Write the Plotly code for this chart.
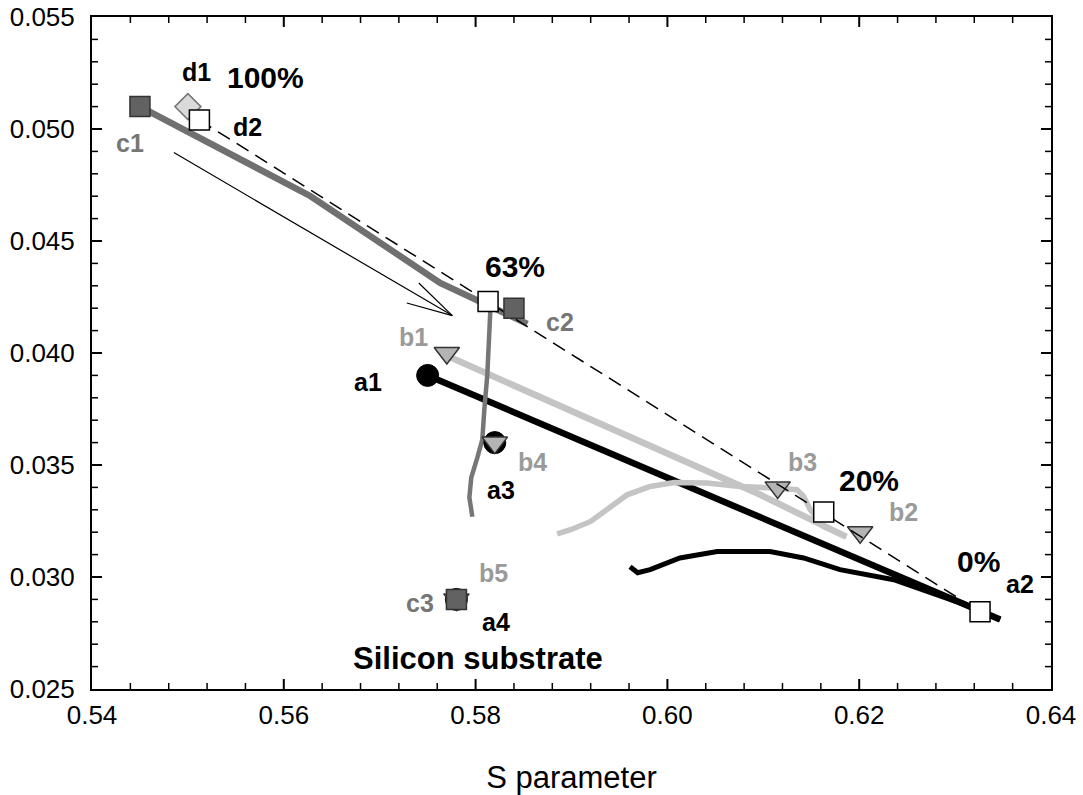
import plotly.graph_objects as go

# ---------------- data (S parameter, W parameter) ----------------
a_line_s = [0.5750, 0.5961, 0.6302, 0.6347]
a_line_w = [0.0390, 0.03515, 0.02886, 0.0281]
a_curve_s = [0.5961, 0.5969, 0.5982, 0.6013, 0.6052, 0.6107, 0.6142, 0.6180, 0.6236, 0.6271, 0.6305, 0.6347]
a_curve_w = [0.03046, 0.03019, 0.03033, 0.03085, 0.03114, 0.03114, 0.03085, 0.03033, 0.02988, 0.02936, 0.02884, 0.0281]
b_line_s = [0.5770, 0.5961, 0.6097, 0.6186]
b_line_w = [0.03988, 0.03627, 0.03367, 0.0318]
b_curve_s = [0.5885, 0.5899, 0.5920, 0.5937, 0.5958, 0.5982, 0.6007, 0.6041, 0.6076, 0.6111, 0.6135, 0.6142, 0.6149, 0.6163, 0.6187]
b_curve_w = [0.03193, 0.03211, 0.03248, 0.03300, 0.03367, 0.03404, 0.03422, 0.03420, 0.03404, 0.03397, 0.03390, 0.03360, 0.03300, 0.03226, 0.03181]
c_line_s = [0.5450, 0.5628, 0.5763, 0.5815, 0.5854]
c_line_w = [0.0510, 0.0470, 0.04313, 0.0421, 0.0413]
a3_line_s = [0.58153, 0.58143, 0.58122, 0.58091, 0.58070, 0.58018, 0.57955, 0.57935, 0.57966]
a3_line_w = [0.04184, 0.04038, 0.03903, 0.03747, 0.03613, 0.03533, 0.03444, 0.03355, 0.03269]
mix_s = [0.5512, 0.6326]
mix_w = [0.0504, 0.02845]

white_sq_s = [0.5512, 0.5813, 0.6163, 0.6326]   # d2, 63%, 20%, 0%
white_sq_w = [0.0504, 0.0423, 0.0329, 0.02845]
dark_sq_s = [0.5450, 0.5840, 0.5780]             # c1, c2, c3
dark_sq_w = [0.0510, 0.0420, 0.0290]
tri_s = [0.5770, 0.6201, 0.6115, 0.5820, 0.5780]  # b1, b2, b3, b4, b5
tri_w = [0.0400, 0.0320, 0.0340, 0.0360, 0.0290]
circ_s = [0.5750, 0.5820, 0.5780]                 # a1, a3, a4
circ_w = [0.0390, 0.0360, 0.0290]
dia_s = [0.5500]                                   # d1
dia_w = [0.0510]

lab_text = ["100%", "63%", "20%", "0%", "d1", "d2", "c1", "c2", "c3",
            "b1", "b2", "b3", "b4", "b5", "a1", "a2", "a3", "a4", "Silicon substrate"]
lab_s = [0.5581, 0.5841, 0.6210, 0.6324, 0.5509, 0.5562, 0.5440, 0.5888, 0.5742,
         0.5735, 0.6246, 0.6141, 0.5859, 0.5819, 0.5688, 0.6368, 0.5826, 0.5821, 0.5803]
lab_w = [0.05228, 0.04384, 0.03433, 0.03067, 0.05255, 0.05010, 0.04938, 0.0414, 0.02884,
         0.0407, 0.03292, 0.03512, 0.03515, 0.03016, 0.0387, 0.02970, 0.0339, 0.0280, 0.02638]
lab_color = ["black", "black", "black", "black", "black", "black", "#767676", "#767676", "#767676",
             "#9a9a9a", "#9a9a9a", "#9a9a9a", "#9a9a9a", "#9a9a9a", "black", "black", "black", "black", "black"]
lab_size = [30, 30, 30, 30, 25, 25, 25, 25, 25, 25, 25, 25, 25, 25, 25, 25, 25, 25, 31]

arrow_tail = (0.54838, 0.04899)
arrow_tip = (0.57757, 0.04167)

x_range = [0.54, 0.64]
y_range = [0.025, 0.055]
x_major, x_minor = 0.02, 0.004
y_major, y_minor = 0.005, 0.001

# ---------------- figure ----------------
W, H = 1083, 795
M = dict(l=92, r=32, t=17, b=106)
plot_w = W - M["l"] - M["r"]
plot_h = H - M["t"] - M["b"]

fig = go.Figure()

def line(xs, ys, color, width, dash=None):
    fig.add_trace(go.Scatter(x=xs, y=ys, mode="lines",
                             line=dict(color=color, width=width, dash=dash),
                             hoverinfo="skip", showlegend=False))

line(a_line_s, a_line_w, "black", 6.5)
line(a_curve_s, a_curve_w, "black", 5)
line(b_line_s, b_line_w, "#c4c4c4", 6.5)
line(b_curve_s, b_curve_w, "#c4c4c4", 5.5)
line(c_line_s, c_line_w, "#707070", 6.5)
line(a3_line_s, a3_line_w, "#767676", 4.5)

fig.add_trace(go.Scatter(x=circ_s, y=circ_w, mode="markers",
                         marker=dict(symbol="circle", size=22, color="black",
                                     line=dict(color="black", width=1)),
                         showlegend=False, hoverinfo="skip"))
fig.add_trace(go.Scatter(x=tri_s, y=tri_w, mode="markers",
                         marker=dict(symbol="triangle-down", size=22, color="#b4b4b4",
                                     line=dict(color="#333333", width=1.5)),
                         showlegend=False, hoverinfo="skip"))
line(mix_s, mix_w, "black", 1.5, dash="14px,8px")
fig.add_trace(go.Scatter(x=dia_s, y=dia_w, mode="markers",
                         marker=dict(symbol="diamond", size=20, color="#dadada",
                                     line=dict(color="#777777", width=1.5)),
                         showlegend=False, hoverinfo="skip"))
fig.add_trace(go.Scatter(x=dark_sq_s, y=dark_sq_w, mode="markers",
                         marker=dict(symbol="square", size=20, color="#626262",
                                     line=dict(color="#333333", width=1.5)),
                         showlegend=False, hoverinfo="skip"))
fig.add_trace(go.Scatter(x=white_sq_s, y=white_sq_w, mode="markers",
                         marker=dict(symbol="square", size=20, color="white",
                                     line=dict(color="black", width=1.5)),
                         showlegend=False, hoverinfo="skip"))

for t, xs, ys, col, sz in zip(lab_text, lab_s, lab_w, lab_color, lab_size):
    fig.add_annotation(x=xs, y=ys, text="<b>%s</b>" % t, showarrow=False,
                       font=dict(family="Liberation Sans, Arial", size=sz, color=col),
                       xanchor="center", yanchor="middle")

fig.add_annotation(x=arrow_tip[0], y=arrow_tip[1], ax=arrow_tail[0], ay=arrow_tail[1],
                   xref="x", yref="y", axref="x", ayref="y", text="",
                   showarrow=True, arrowhead=0, arrowwidth=1.2, arrowcolor="black")
for dx, dy in [(-47, -13), (-35, -34)]:
    fig.add_annotation(x=arrow_tip[0], y=arrow_tip[1], ax=dx, ay=dy,
                       xref="x", yref="y", text="",
                       showarrow=True, arrowhead=0, arrowwidth=1.2, arrowcolor="black")

# inside tick marks on all four sides of the frame
def tick_values(rng, step):
    n = int(round((rng[1] - rng[0]) / step))
    return [rng[0] + i * step for i in range(1, n)]

def is_major(v, rng, step):
    k = (v - rng[0]) / step
    return abs(k - round(k)) < 1e-6

x_major_vals = tick_values(x_range, x_major)
x_minor_vals = [v for v in tick_values(x_range, x_minor) if not is_major(v, x_range, x_major)]
y_major_vals = tick_values(y_range, y_major)
y_minor_vals = [v for v in tick_values(y_range, y_minor) if not is_major(v, y_range, y_major)]

tick_shapes = []
for vals, length, width in [(x_major_vals, 10, 2), (x_minor_vals, 6, 1.5)]:
    f = length / plot_h
    for v in vals:
        tick_shapes.append(dict(type="line", xref="x", yref="paper", x0=v, x1=v, y0=0, y1=f,
                                line=dict(color="black", width=width)))
        tick_shapes.append(dict(type="line", xref="x", yref="paper", x0=v, x1=v, y0=1, y1=1 - f,
                                line=dict(color="black", width=width)))
for vals, length, width in [(y_major_vals, 10, 2), (y_minor_vals, 6, 1.5)]:
    f = length / plot_w
    for v in vals:
        tick_shapes.append(dict(type="line", xref="paper", yref="y", x0=0, x1=f, y0=v, y1=v,
                                line=dict(color="black", width=width)))
        tick_shapes.append(dict(type="line", xref="paper", yref="y", x0=1, x1=1 - f, y0=v, y1=v,
                                line=dict(color="black", width=width)))

tickfont = dict(family="Liberation Sans, Arial", size=26, color="black")

fig.update_layout(
    width=W, height=H, plot_bgcolor="white", paper_bgcolor="white",
    margin=M, showlegend=False, shapes=tick_shapes,
    xaxis=dict(range=x_range, dtick=x_major, tick0=x_range[0], tickformat=".2f",
               showgrid=False, zeroline=False, showline=True, linecolor="black", linewidth=2,
               mirror=True, ticks="", tickfont=tickfont, ticklabelstandoff=2, automargin=False,
               title=dict(text="S parameter", standoff=38,
                          font=dict(family="Liberation Sans, Arial", size=31, color="black"))),
    yaxis=dict(range=y_range, dtick=y_major, tick0=y_range[0], tickformat=".3f",
               showgrid=False, zeroline=False, showline=True, linecolor="black", linewidth=2,
               mirror=True, ticks="", tickfont=tickfont, ticklabelstandoff=10, automargin=False),
)

fig.write_html("out.html")
